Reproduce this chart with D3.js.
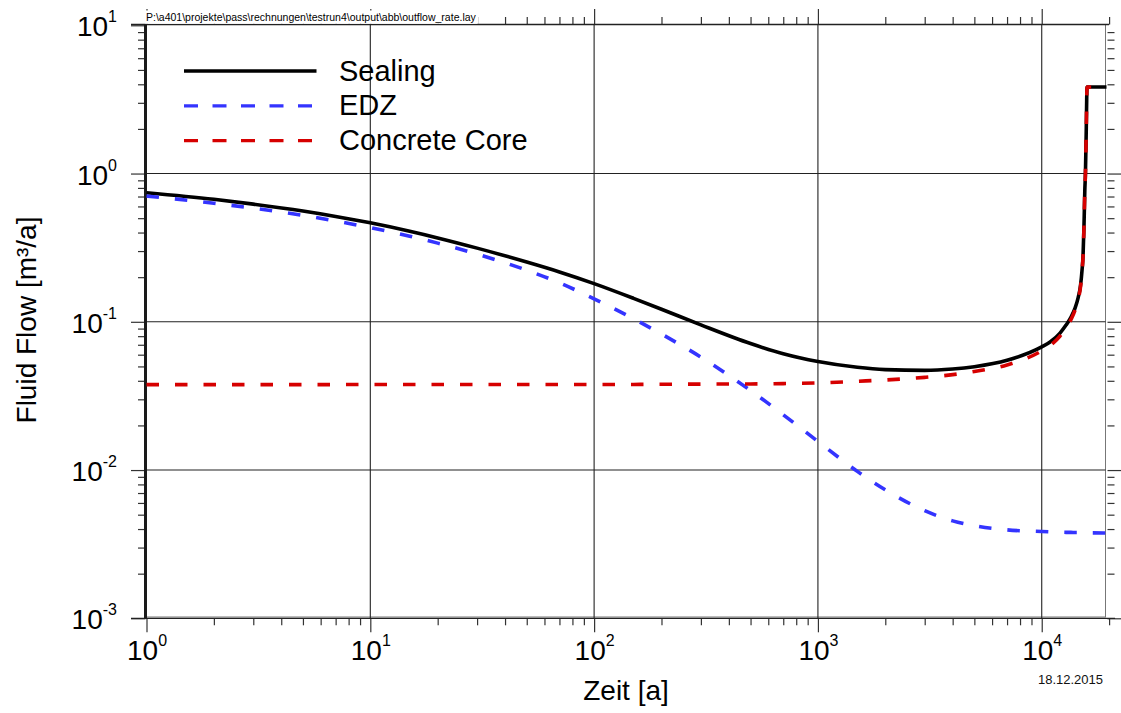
<!DOCTYPE html>
<html>
<head>
<meta charset="utf-8">
<script src="https://cdn.jsdelivr.net/npm/d3@7"></script>
<style>
  html, body { margin: 0; padding: 0; background: #fff; }
  svg { display: block; font-family: "Liberation Sans", Arial, Helvetica, sans-serif; }
</style>
</head>
<body>
<svg id="chart" width="1121" height="713"></svg>
<script>
// Time steps [a] shared by all three outflow series
const time = [1, 2, 3, 5, 7, 10, 15, 20, 30, 50, 70, 100, 150, 200, 300, 500, 700,
  1000, 1500, 2000, 3000, 4000, 5000, 7000, 10000, 10900, 12070, 12840, 13520, 14090,
  14530, 14910, 15140, 15300, 15450, 15580, 15680, 15810, 15940, 20000];

// Fluid flow [m³/a]
const sealing = [0.743, 0.670, 0.622, 0.559, 0.514, 0.465, 0.408, 0.368, 0.314, 0.253,
  0.217, 0.181, 0.144, 0.1216, 0.0953, 0.0713, 0.0608, 0.0539, 0.0493, 0.0476, 0.047,
  0.048, 0.0498, 0.055, 0.0677, 0.073, 0.0839, 0.095, 0.1076, 0.1237, 0.1445, 0.1768,
  0.2232, 0.2818, 0.4493, 0.774, 1.008, 1.966, 3.835, 3.835];
const edz = [0.705, 0.631, 0.584, 0.522, 0.4785, 0.4315, 0.3775, 0.3394, 0.2862, 0.2229,
  0.1833, 0.1428, 0.1049, 0.0827, 0.0578, 0.0344, 0.0236, 0.0156, 0.0098, 0.00736,
  0.00532, 0.00454, 0.00421, 0.00395, 0.00385, 0.00383, 0.00381, 0.0038, 0.0038,
  0.00379, 0.00379, 0.00378, 0.00378, 0.00378, 0.00378, 0.00378, 0.00378, 0.00377,
  0.00377, 0.00376];
const concreteCore = [0.0377, 0.0377, 0.0377, 0.0377, 0.0377, 0.0378, 0.0378, 0.0378,
  0.0378, 0.0378, 0.0378, 0.0378, 0.0378, 0.0379, 0.038, 0.0381, 0.0383, 0.0387,
  0.0397, 0.0405, 0.0422, 0.044, 0.0462, 0.0511, 0.0637, 0.0692, 0.0801, 0.0912,
  0.1038, 0.1199, 0.1407, 0.173, 0.2194, 0.278, 0.4455, 0.770, 1.004, 1.962, 3.83, 3.83];

const seriesNames = ["Sealing", "EDZ", "Concrete Core"];
const seriesColors = ["#000000", "#3434ff", "#d60000"];

const xMajorTicks = [1, 10, 100, 1000, 10000];
const yMajorTicks = [1e-3, 1e-2, 1e-1, 1, 10];

const xTitle = "Zeit [a]";
const yTitle = "Fluid Flow [m³/a]";
const fileLabel = "P:\\a401\\projekte\\pass\\rechnungen\\testrun4\\output\\abb\\outflow_rate.lay";
const dateLabel = "18.12.2015";

// ---- layout ----
const frame = { left: 145.5, right: 1105.5, top: 24.5, bottom: 617 };
const axisFont = 28, supFont = 16;

const svg = d3.select("#chart");

const x = d3.scaleLog().domain([1, 20000]).range([146.5, 1109.1]);
const y = d3.scaleLog().domain([1e-3, 10]).range([618.3, 25.3]);

const isPow10 = v => Math.abs(Math.log10(v) - Math.round(Math.log10(v))) < 1e-9;
const xMinor = x.ticks().filter(v => !isPow10(v));
const yMinor = y.ticks().filter(v => !isPow10(v));

// ---- frame and grid ----
const grid = svg.append("g");
grid.append("rect")
  .attr("x", frame.left).attr("y", frame.top)
  .attr("width", frame.right - frame.left).attr("height", frame.bottom - frame.top)
  .attr("fill", "none").attr("stroke", "#777").attr("stroke-width", 1);

grid.selectAll("line.vg").data(xMajorTicks.filter(v => v > 1)).join("line")
  .attr("x1", d => x(d)).attr("x2", d => x(d))
  .attr("y1", frame.top).attr("y2", y(1e-3))
  .attr("stroke", "#222").attr("stroke-width", 1.1);

grid.selectAll("line.hg").data(yMajorTicks.filter(v => v > 1e-3 && v < 10)).join("line")
  .attr("x1", frame.left).attr("x2", frame.right)
  .attr("y1", d => y(d)).attr("y2", d => y(d))
  .attr("stroke", "#222").attr("stroke-width", 1.1);

// ---- axes ----
function styleAxis(g) {
  g.select(".domain").remove();
  g.attr("font-family", null).attr("font-size", null);
  g.selectAll(".tick line").attr("stroke", "#333").attr("stroke-width", 1.2);
}
function powerLabel(sel) {
  sel.each(function (d) {
    const e = Math.round(Math.log10(d));
    const t = d3.select(this);
    t.text(null);
    t.append("tspan").text("10");
    t.append("tspan").attr("font-size", supFont).attr("dy", -14).text(String(e));
  });
}

// bottom
svg.append("g").attr("transform", `translate(0,${y(1e-3)})`)
  .call(d3.axisBottom(x).tickValues(xMinor).tickSize(7).tickFormat(""))
  .call(styleAxis);
svg.append("g").attr("transform", `translate(0,${y(1e-3)})`)
  .call(d3.axisBottom(x).tickValues(xMajorTicks).tickSize(14))
  .call(styleAxis)
  .call(g => g.selectAll(".tick text")
    .attr("y", 41.7).attr("dy", 0).attr("fill", "#000")
    .attr("font-size", axisFont).attr("text-anchor", "middle")
    .call(powerLabel));

// top
svg.append("g").attr("transform", `translate(0,${frame.top})`)
  .call(d3.axisTop(x).tickValues(xMinor).tickSize(7.5).tickFormat(""))
  .call(styleAxis);
svg.append("g").attr("transform", `translate(0,${frame.top})`)
  .call(d3.axisTop(x).tickValues(xMajorTicks).tickSize(15.5).tickFormat(""))
  .call(styleAxis);

// left
svg.append("g").attr("transform", `translate(${frame.left},0)`)
  .call(d3.axisLeft(y).tickValues(yMinor).tickSize(7.5).tickFormat(""))
  .call(styleAxis);
svg.append("g").attr("transform", `translate(${frame.left},0)`)
  .call(d3.axisLeft(y).tickValues(yMajorTicks).tickSize(14.5))
  .call(styleAxis)
  .call(g => g.selectAll(".tick text")
    .attr("x", -28.5).attr("y", 10.5).attr("dy", 0).attr("fill", "#000")
    .attr("font-size", axisFont).attr("text-anchor", "end")
    .call(powerLabel));

// right
svg.append("g").attr("transform", `translate(1107.5,0)`)
  .call(d3.axisRight(y).tickValues(yMinor).tickSize(7).tickFormat(""))
  .call(styleAxis);
svg.append("g").attr("transform", `translate(1107.5,0)`)
  .call(d3.axisRight(y).tickValues(yMajorTicks.filter(v => v < 10)).tickSize(13.5).tickFormat(""))
  .call(styleAxis);

// axis lines
svg.append("line")
  .attr("x1", 131).attr("x2", x(20000) + 6)
  .attr("y1", y(1e-3)).attr("y2", y(1e-3))
  .attr("stroke", "#222").attr("stroke-width", 1.3);
svg.append("line")
  .attr("x1", 131).attr("x2", x(20000))
  .attr("y1", frame.top).attr("y2", frame.top)
  .attr("stroke", "#222").attr("stroke-width", 1.3);
svg.append("line")
  .attr("x1", frame.left).attr("x2", frame.left)
  .attr("y1", frame.top).attr("y2", y(1e-3))
  .attr("stroke", "#1a1a1a").attr("stroke-width", 3);

// ---- curves ----
svg.append("clipPath").attr("id", "plotClip")
  .append("rect")
  .attr("x", frame.left).attr("y", frame.top)
  .attr("width", frame.right + 1 - frame.left).attr("height", y(1e-3) - frame.top);

const seriesValues = [sealing, edz, concreteCore];
const line = d3.line().x(d => x(d[0])).y(d => y(d[1])).curve(d3.curveMonotoneX);

const curves = svg.append("g").attr("clip-path", "url(#plotClip)");
seriesValues.forEach((vals, i) => {
  curves.append("path")
    .datum(time.map((t, k) => [t, vals[k]]))
    .attr("d", line)
    .attr("fill", "none")
    .attr("stroke", seriesColors[i])
    .attr("stroke-width", 3.6)
    .attr("stroke-dasharray", i === 0 ? null : "12.5,16");
});

// ---- legend ----
const legend = svg.append("g");
seriesNames.forEach((name, i) => {
  const ly = 71 + i * 34.8;
  legend.append("line")
    .attr("x1", 184).attr("x2", i === 0 ? 316.5 : 312)
    .attr("y1", ly).attr("y2", ly)
    .attr("stroke", seriesColors[i]).attr("stroke-width", 3.3)
    .attr("stroke-dasharray", i === 0 ? null : "14,14.5");
  legend.append("text")
    .attr("x", 339).attr("y", ly + 9.5)
    .attr("font-size", 29).attr("fill", "#000")
    .text(name);
});

// ---- titles ----
svg.append("text")
  .attr("x", 626).attr("y", 700)
  .attr("text-anchor", "middle").attr("font-size", axisFont)
  .text(xTitle);
svg.append("text")
  .attr("transform", "translate(35.5,320) rotate(-90)")
  .attr("text-anchor", "middle").attr("font-size", axisFont)
  .text(yTitle);

// file path label on a white box over the top axis
const fileG = svg.append("g");
const fileText = fileG.append("text")
  .attr("x", 146).attr("y", 20.5)
  .attr("font-size", 10.5).attr("fill", "#000")
  .text(fileLabel);
const bb = fileText.node().getBBox();
fileG.insert("rect", "text")
  .attr("x", bb.x - 0.5).attr("y", 10.5)
  .attr("width", bb.width + 2).attr("height", 13.3)
  .attr("fill", "#fff");

svg.append("text")
  .attr("x", 1103).attr("y", 684)
  .attr("text-anchor", "end").attr("font-size", 13).attr("fill", "#111")
  .text(dateLabel);
</script>
</body>
</html>
